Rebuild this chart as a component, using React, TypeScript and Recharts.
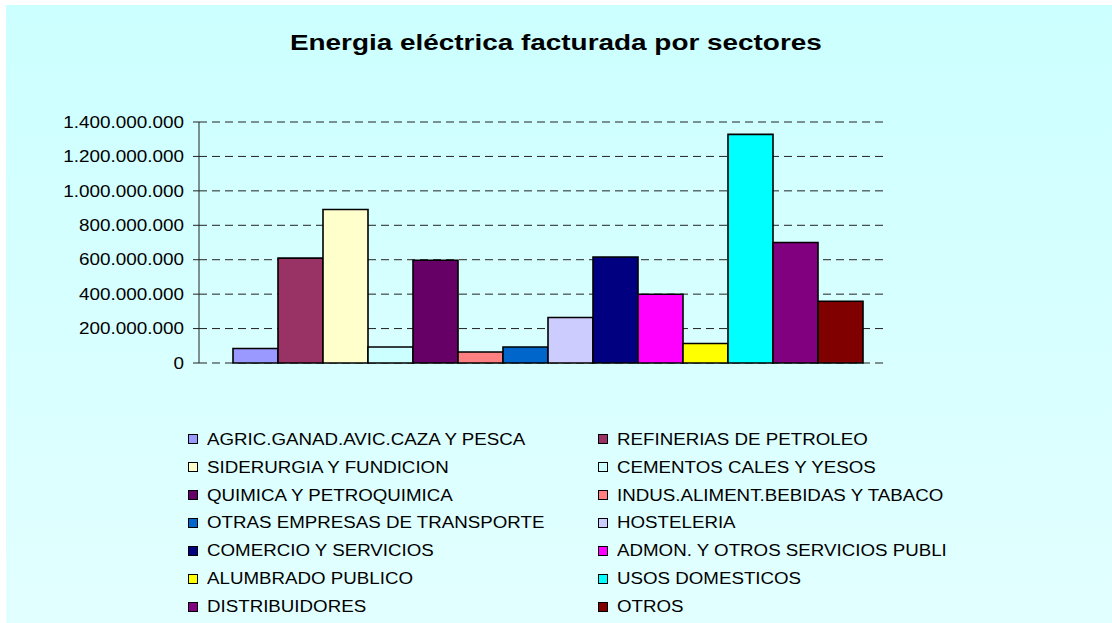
import React from "react";
import { BarChart, Bar, XAxis, YAxis, CartesianGrid } from "recharts";

const sectors = [
  "AGRIC.GANAD.AVIC.CAZA Y PESCA",
  "REFINERIAS DE PETROLEO",
  "SIDERURGIA Y FUNDICION",
  "CEMENTOS CALES Y YESOS",
  "QUIMICA Y PETROQUIMICA",
  "INDUS.ALIMENT.BEBIDAS Y TABACO",
  "OTRAS EMPRESAS DE TRANSPORTE",
  "HOSTELERIA",
  "COMERCIO Y SERVICIOS",
  "ADMON. Y OTROS SERVICIOS PUBLI",
  "ALUMBRADO PUBLICO",
  "USOS DOMESTICOS",
  "DISTRIBUIDORES",
  "OTROS",
];

const values = [
  84000000, 609000000, 892000000, 93000000, 597000000, 64000000, 93000000,
  264000000, 616000000, 399000000, 113000000, 1328000000, 700000000, 359000000,
];

const colors = [
  "#9999FF", "#993366", "#FFFFCC", "#CCFFFF", "#660066", "#FF8080", "#0066CC",
  "#CCCCFF", "#000080", "#FF00FF", "#FFFF00", "#00FFFF", "#800080", "#800000",
];

const yTicks = [0, 200000000, 400000000, 600000000, 800000000, 1000000000, 1200000000, 1400000000];

const data = [
  sectors.reduce(
    (row, _name, i) => ({ ...row, ["s" + i]: values[i] }),
    { name: "Sectores" } as Record<string, string | number>
  ),
];

// 1.400.000.000 style
const fmt = (v: number) => String(v).replace(/\B(?=(\d{3})+(?!\d))/g, ".");

const FONT = "'Liberation Sans', Arial, sans-serif";

// the original text is drawn a bit wide, so stretch it horizontally
const YTick = (props: any) => {
  const { x, y, payload } = props;
  return (
    <g transform={`translate(${x},${y})`}>
      <text
        transform="scale(1.18,1)"
        textAnchor="end"
        dy="0.36em"
        fill="#000"
        fontSize={16}
        fontFamily={FONT}
      >
        {fmt(payload.value)}
      </text>
    </g>
  );
};

function LegendBlock() {
  return (
    <>
      {sectors.map((name, i) => {
        const col = i % 2;
        const row = Math.floor(i / 2);
        const cy = 439 + row * 27.95;
        const sqX = col === 0 ? 188 : 598;
        const txX = col === 0 ? 206.5 : 616.5;
        return (
          <React.Fragment key={name}>
            <div
              style={{
                position: "absolute",
                left: sqX,
                top: cy - 5,
                width: 8,
                height: 8,
                background: colors[i],
                border: "1px solid #000",
              }}
            />
            <div
              style={{
                position: "absolute",
                left: txX,
                top: cy - 9.4,
                fontFamily: FONT,
                fontSize: 16,
                lineHeight: "19px",
                whiteSpace: "nowrap",
                color: "#000",
                transform: "scaleX(1.17)",
                transformOrigin: "left center",
              }}
            >
              {name}
            </div>
          </React.Fragment>
        );
      })}
    </>
  );
}

export default function App() {
  return (
    <div
      style={{
        position: "absolute",
        left: 0,
        top: 0,
        width: 1112,
        height: 623,
        background: "#fff",
        overflow: "hidden",
      }}
    >
      <div
        style={{
          position: "absolute",
          left: 6,
          top: 5,
          right: 0,
          bottom: 0,
          background: "linear-gradient(#CCFFFF, #E2FFFF)",
        }}
      />
      <div
        style={{
          position: "absolute",
          left: 0,
          top: 30.5,
          width: 1112,
          textAlign: "center",
          fontFamily: FONT,
          fontWeight: "bold",
          fontSize: 22.5,
          lineHeight: "23px",
          color: "#000",
          transform: "scaleX(1.24)",
          transformOrigin: "556.5px center",
        }}
      >
        Energia eléctrica facturada por sectores
      </div>
      <div style={{ position: "absolute", left: 0, top: 0 }}>
        <BarChart
          width={1112}
          height={623}
          data={data}
          margin={{ top: 122, right: 228, bottom: 260, left: 0 }}
          barCategoryGap={27}
          barGap={0}
        >
          <CartesianGrid
            vertical={false}
            stroke="#222"
            strokeDasharray="8 5"
          />
          <XAxis dataKey="name" hide padding={{ left: 7, right: 0 }} />
          <YAxis
            width={199}
            domain={[0, 1400000000]}
            ticks={yTicks}
            interval={0}
            axisLine={{ stroke: "#222" }}
            tickLine={{ stroke: "#222" }}
            tickSize={6}
            tickMargin={9}
            tick={<YTick />}
          />
          {sectors.map((name, i) => (
            <Bar
              key={name}
              dataKey={"s" + i}
              name={name}
              fill={colors[i]}
              stroke="#000"
              strokeWidth={1.6}
              isAnimationActive={false}
            />
          ))}
        </BarChart>
      </div>
      <LegendBlock />
    </div>
  );
}
